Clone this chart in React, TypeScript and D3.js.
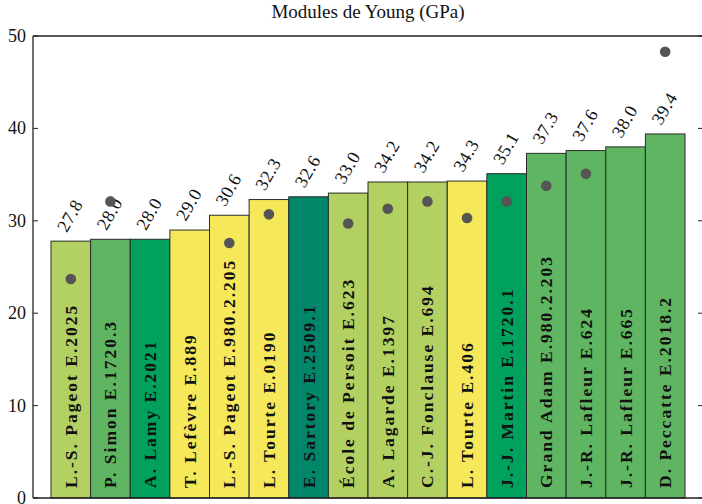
import React from 'react';
import * as d3 from 'd3';

const labels = [
  'L.-S. Pageot E.2025', 'P. Simon E.1720.3', 'A. Lamy E.2021', 'T. Lefèvre E.889',
  'L.-S. Pageot E.980.2.205', 'L. Tourte E.0190', 'E. Sartory E.2509.1', 'École de Persoit E.623',
  'A. Lagarde E.1397', 'C.-J. Fonclause E.694', 'L. Tourte E.406', 'J.-J. Martin E.1720.1',
  'Grand Adam E.980.2.203', 'J.-R. Lafleur E.624', 'J.-R. Lafleur E.665', 'D. Peccatte E.2018.2',
];
const values = [27.8, 28.0, 28.0, 29.0, 30.6, 32.3, 32.6, 33.0, 34.2, 34.2, 34.3, 35.1, 37.3, 37.6, 38.0, 39.4];
const dots: (number | null)[] = [23.7, 32.1, null, null, 27.6, 30.7, null, 29.7, 31.3, 32.1, 30.3, 32.1, 33.8, 35.1, null, 48.3];
const groups = ['a', 'b', 'c', 'd', 'd', 'd', 'e', 'a', 'a', 'a', 'd', 'c', 'b', 'b', 'b', 'b'];
const yTicks = [0, 10, 20, 30, 40, 50];

const palette: Record<string, string> = {
  a: '#b3d062',
  b: '#60b562',
  c: '#00a05d',
  d: '#f5e85a',
  e: '#00876a',
};

const width = 702;
const height = 504;
const margin = { top: 36, right: -1, bottom: 6, left: 33 };
const font = '"Liberation Serif", serif';

const App = () => {
  const x0 = margin.left;
  const x1 = width - margin.right;
  const y0 = height - margin.bottom;

  const xScale = d3.scaleBand<number>()
    .domain(d3.range(labels.length))
    .range([51, 685])
    .padding(0);

  const yScale = d3.scaleLinear()
    .domain([0, 50])
    .range([y0, margin.top]);

  const bw = xScale.bandwidth();

  return (
    <svg width={width} height={height} style={{ position: 'absolute', left: 0, top: 0 }} fontFamily={font}>
      <text x={(x0 + x1) / 2} y={18} textAnchor="middle" fontSize={19} fill="#111">
        Modules de Young (GPa)
      </text>

      {values.map((v, i) => (
        <rect key={'b' + i}
          x={xScale(i)} y={yScale(v)} width={bw} height={y0 - yScale(v)}
          fill={palette[groups[i]]} stroke="#2b2b2b" strokeWidth={1} />
      ))}

      {labels.map((l, i) => {
        const cx = (xScale(i) as number) + bw / 2;
        return (
          <text key={'l' + i} transform={`translate(${cx + 6}, ${y0 - 10}) rotate(-90)`}
            fontSize={17.5} fontWeight="bold" letterSpacing={2} fill="#111">
            {l}
          </text>
        );
      })}

      {values.map((v, i) => {
        const cx = (xScale(i) as number) + bw / 2;
        return (
          <text key={'v' + i} transform={`translate(${cx - 4}, ${yScale(v) - 8}) rotate(-60)`}
            fontSize={18} letterSpacing={0.5} fill="#111">
            {v.toFixed(1)}
          </text>
        );
      })}

      {dots.map((d, i) => d === null ? null : (
        <circle key={'d' + i} cx={(xScale(i) as number) + bw / 2} cy={yScale(d)} r={5.3} fill="#555" />
      ))}

      <g stroke="#222" strokeWidth={1.3} fill="none">
        <line x1={x0} x2={x1} y1={y0} y2={y0} />
        <line x1={x0} x2={x1} y1={margin.top} y2={margin.top} />
        <line x1={x0} x2={x0} y1={margin.top} y2={y0} />
        <line x1={x1} x2={x1} y1={margin.top} y2={y0} />
      </g>

      {yTicks.map(t => (
        <g key={'t' + t}>
          <line x1={x0} x2={x0 + 5} y1={yScale(t)} y2={yScale(t)} stroke="#222" strokeWidth={1} />
          <line x1={x1 - 5} x2={x1} y1={yScale(t)} y2={yScale(t)} stroke="#222" strokeWidth={1} />
          <text x={x0 - 7} y={yScale(t)} dy="0.33em" textAnchor="end" fontSize={18} fill="#111">{t}</text>
        </g>
      ))}
    </svg>
  );
};

export default App;
